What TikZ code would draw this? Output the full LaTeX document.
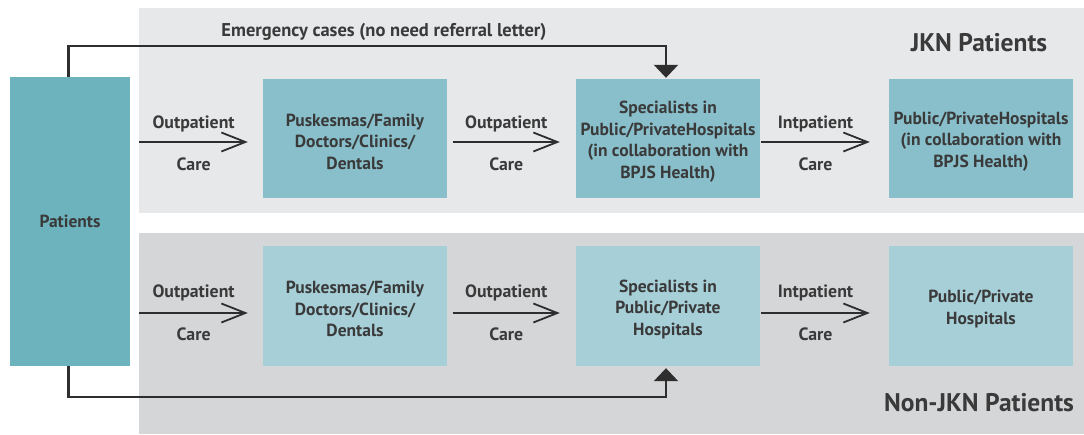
\documentclass[tikz,border=0pt]{standalone}
\usepackage{fontspec}
\setmainfont{PT Sans}
\usetikzlibrary{arrows.meta,calc}
\definecolor{txt}{HTML}{3A3A3A}
\definecolor{panelA}{HTML}{E7E8EA}
\definecolor{panelB}{HTML}{D5D6D8}
\definecolor{patc}{HTML}{6DB3BE}
\definecolor{boxA}{HTML}{88BFCB}
\definecolor{boxB}{HTML}{A6CFD8}
\definecolor{linec}{HTML}{2E2E2E}
\tikzset{
  boxtext/.style={inner sep=0pt, align=center, text=txt, font=\fontsize{17.5}{21.5}\selectfont\bfseries, yshift=-3pt},
  boxbase/.style={inner sep=0pt, align=center, text=txt, font=\fontsize{17.5}{21.5}\selectfont\bfseries},
  topbox/.style={boxbase, fill=boxA, minimum width=184pt, minimum height=119pt},
  botbox/.style={boxbase, fill=boxB, minimum width=184pt, minimum height=120pt},
  flow/.style={draw=linec, line width=1.8pt, -{Straight Barb[length=24pt,width=19pt,line width=1.8pt]}},
  route/.style={draw=linec, line width=2.4pt, -{Triangle[length=13pt,width=24pt]}},
  lbl/.style={text=txt, font=\fontsize{17.8}{20}\selectfont\bfseries, inner sep=0pt},
  head/.style={text=txt, font=\fontsize{25.5}{28}\selectfont\bfseries, inner sep=0pt},
}
\begin{document}
\begin{tikzpicture}[x=1pt,y=-1pt]
\useasboundingbox (0,0) rectangle (1084,434);
% panels
\fill[panelA] (139,8) rectangle (1084,213);
\fill[panelB] (139,233) rectangle (1084,434);
% nodes
\node[boxbase, fill=patc, minimum width=120.5pt, minimum height=289pt] (pat) at (70,221.5) {Patients};
\node[topbox, label={[boxtext]center:{Puskesmas/Family\\Doctors/Clinics/\\Dentals}}] (p1) at (355,138.5) {};
\node[topbox, label={[boxtext]center:{Specialists in\\Public/PrivateHospitals\\(in collaboration with\\BPJS Health)}}] (s1) at (668,138.5) {};
\node[topbox, label={[boxtext]center:{Public/PrivateHospitals\\(in collaboration with\\BPJS Health)}}] (h1) at (981,138.5) {};
\node[botbox, label={[boxtext]center:{Puskesmas/Family\\Doctors/Clinics/\\Dentals}}] (p2) at (355,306) {};
\node[botbox, label={[boxtext]center:{Specialists in\\Public/Private\\Hospitals}}] (s2) at (668,306) {};
\node[botbox, label={[boxtext]center:{Public/Private\\Hospitals}}] (h2) at (981,306) {};
\node[head] (jkn) at (979,43) {JKN Patients};
\node[head] (njkn) at (979,403) {Non-JKN Patients};
% top row arrows
\coordinate (a1s) at ($(pat.east|-p1.west)+(9,3.5)$);
\coordinate (a1e) at ($(p1.west)+(-15,3.5)$);
\draw[flow] (a1s) -- (a1e);
\node[lbl] (a1u) at ($(a1s)!0.5!(a1e)+(0,-18)$) {Outpatient};
\node[lbl] (a1d) at ($(a1s)!0.5!(a1e)+(0,22)$) {Care};
\coordinate (a2s) at ($(p1.east)+(5.5,3.5)$);
\coordinate (a2e) at ($(s1.west)+(-16,3.5)$);
\draw[flow] (a2s) -- (a2e);
\node[lbl] (a2u) at ($(a2s)!0.5!(a2e)+(0,-18)$) {Outpatient};
\node[lbl] (a2d) at ($(a2s)!0.5!(a2e)+(0,22)$) {Care};
\coordinate (a3s) at ($(s1.east)+(1,3.5)$);
\coordinate (a3e) at ($(h1.west)+(-19,3.5)$);
\draw[flow] (a3s) -- (a3e);
\node[lbl] (a3u) at ($(a3s)!0.5!(a3e)+(0,-18)$) {Intpatient};
\node[lbl] (a3d) at ($(a3s)!0.5!(a3e)+(0,22)$) {Care};
% bottom row arrows
\coordinate (b1s) at ($(pat.east|-p2.west)+(9,7)$);
\coordinate (b1e) at ($(p2.west)+(-15,7)$);
\draw[flow] (b1s) -- (b1e);
\node[lbl] (b1u) at ($(b1s)!0.5!(b1e)+(0,-20)$) {Outpatient};
\node[lbl] (b1d) at ($(b1s)!0.5!(b1e)+(0,21)$) {Care};
\coordinate (b2s) at ($(p2.east)+(5.5,7)$);
\coordinate (b2e) at ($(s2.west)+(-16,7)$);
\draw[flow] (b2s) -- (b2e);
\node[lbl] (b2u) at ($(b2s)!0.5!(b2e)+(0,-20)$) {Outpatient};
\node[lbl] (b2d) at ($(b2s)!0.5!(b2e)+(0,21)$) {Care};
\coordinate (b3s) at ($(s2.east)+(1,7)$);
\coordinate (b3e) at ($(h2.west)+(-19,7)$);
\draw[flow] (b3s) -- (b3e);
\node[lbl] (b3u) at ($(b3s)!0.5!(b3e)+(0,-20)$) {Intpatient};
\node[lbl] (b3d) at ($(b3s)!0.5!(b3e)+(0,21)$) {Care};
% emergency route
\coordinate (e1) at ($(pat.north)+(-1.4,0)$);
\coordinate (e2) at (e1|-0,45.7);
\coordinate (e3) at ($(s1.north)+(-2,-1)$);
\draw[route] (e1) -- (e2) -| (e3);
\node[lbl, font=\fontsize{18.5}{20}\selectfont\bfseries] (em) at (384,31.5) {Emergency cases (no need referral letter)};
% non-JKN route
\coordinate (n1) at ($(pat.south)+(-1.4,0)$);
\coordinate (n2) at (n1|-0,397);
\coordinate (n3) at ($(s2.south)+(-2,2)$);
\draw[route] (n1) -- (n2) -| (n3);
\end{tikzpicture}
\end{document}
